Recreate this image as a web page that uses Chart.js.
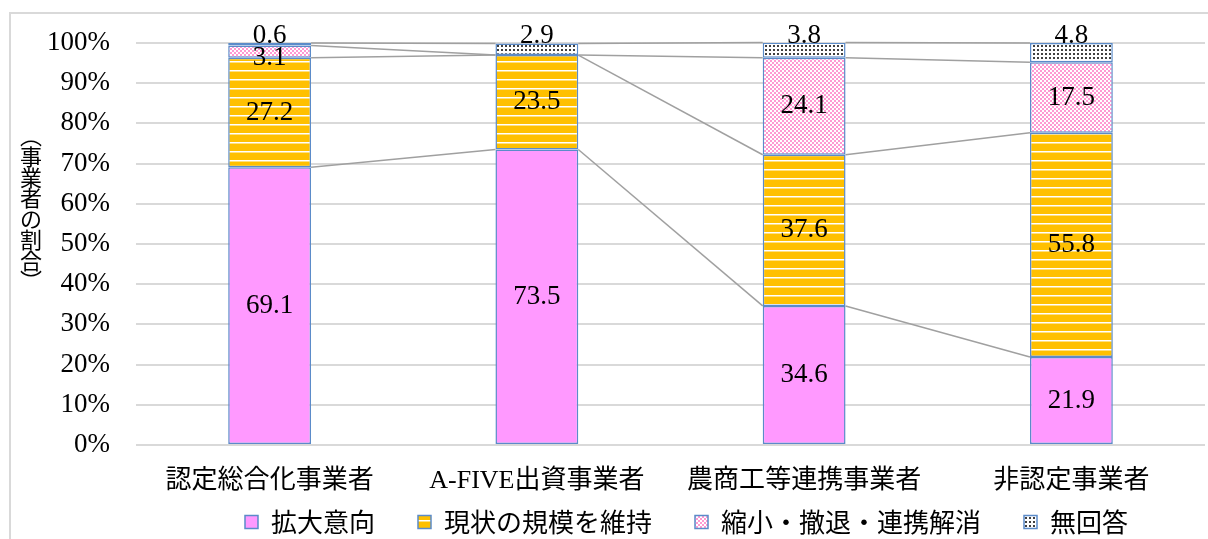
<!DOCTYPE html>
<html>
<head>
<meta charset="utf-8">
<script src="https://cdn.jsdelivr.net/npm/chart.js@4.4.1/dist/chart.umd.min.js"></script>
<style>
    html, body { margin: 0; padding: 0; background: #fff; overflow: hidden; }
    #wrap { position: relative; width: 1208px; height: 539px; }
</style>
</head>
<body>
<div id="wrap"><canvas id="chart"></canvas></div>
<script>
// データ（単位：%）
const categories = ['認定総合化事業者', 'A-FIVE出資事業者', '農商工等連携事業者', '非認定事業者'];
const seriesNames = ['拡大意向', '現状の規模を維持', '縮小・撤退・連携解消', '無回答'];
const expand = [69.1, 73.5, 34.6, 21.9];
const maintain = [27.2, 23.5, 37.6, 55.8];
const shrink = [3.1, 0, 24.1, 17.5];
const noAnswer = [0.6, 2.9, 3.8, 4.8];
const yTicks = [0, 10, 20, 30, 40, 50, 60, 70, 80, 90, 100];
const yTitle = ['︵', '事', '業', '者', 'の', '割', '合', '︶'];

const SERIF = '"Liberation Serif", "Noto Sans CJK JP", serif';
const GOTHIC = '"Noto Sans CJK JP", sans-serif';
const BORDER = '#5b8bc9';

function makeTile(w, h, draw) {
    const c = document.createElement('canvas');
    c.width = w;
    c.height = h;
    draw(c.getContext('2d'));
    return document.createElement('canvas').getContext('2d').createPattern(c, 'repeat');
}

// 横縞（オレンジ）
const stripePattern = makeTile(8, 9, g => {
    g.fillStyle = '#ffc000';
    g.fillRect(0, 0, 8, 9);
    g.fillStyle = '#ffffff';
    g.fillRect(0, 7, 8, 1);
    g.fillStyle = 'rgba(255,255,255,0.5)';
    g.fillRect(0, 8, 8, 1);
});

// 市松（ピンク）
const checkPattern = makeTile(4, 4, g => {
    g.fillStyle = '#ff99d2';
    g.fillRect(0, 0, 4, 4);
    g.fillStyle = '#ffffff';
    g.fillRect(0, 0, 2, 2);
    g.fillRect(2, 2, 2, 2);
});

// 点描
const dotPattern = makeTile(4, 4, g => {
    g.fillStyle = '#ffffff';
    g.fillRect(0, 0, 4, 4);
    g.fillStyle = '#404040';
    g.fillRect(1, 1, 2, 2);
});

const frame = {
    id: 'frame',
    beforeDraw(chart) {
        const c = chart.ctx;
        c.save();
        c.fillStyle = '#fff';
        c.fillRect(0, 0, chart.width, chart.height);
        c.strokeStyle = '#d9d9d9';
        c.lineWidth = 2;
        c.strokeRect(10, 13, chart.width + 50, chart.height + 50);
        c.restore();
    }
};

// 凡例を目盛ラベルの下、右寄りに置く
const legendPlace = {
    id: 'legendPlace',
    afterLayout(chart) {
        const lg = chart.legend;
        const lab = lg.options.labels;
        const dy = 522 - (lg.top + lab.padding + lab.font.size / 2);
        lg.top += dy;
        lg.bottom += dy;
        lg.left += 84;
        lg.right += 84;
    }
};

// 系列線
const seriesLines = {
    id: 'seriesLines',
    beforeDatasetsDraw(chart) {
        const c = chart.ctx;
        c.save();
        c.strokeStyle = '#a0a0a0';
        c.lineWidth = 1.5;
        chart.data.datasets.forEach((ds, di) => {
            const pts = chart.getDatasetMeta(di).data;
            for (let i = 0; i < pts.length - 1; i++) {
                const a = pts[i], b = pts[i + 1];
                c.beginPath();
                c.moveTo(a.x + a.width / 2, a.y);
                c.lineTo(b.x - b.width / 2, b.y);
                c.stroke();
            }
        });
        c.restore();
    }
};

const valueLabels = {
    id: 'valueLabels',
    afterDatasetsDraw(chart) {
        const c = chart.ctx;
        c.save();
        c.font = '27px ' + SERIF;
        c.fillStyle = '#000';
        c.textAlign = 'center';
        c.textBaseline = 'middle';
        chart.data.datasets.forEach((ds, di) => {
            chart.getDatasetMeta(di).data.forEach((el, i) => {
                const v = ds.data[i];
                if (!v) return;
                let y = (el.y + el.base) / 2;
                if (ds.labelAtTop) y = el.y - 7;
                else if (v < 5) y += 6;
                c.fillText(v.toFixed(1), el.x, y);
            });
        });
        c.restore();
    }
};

// 縦書きの軸タイトル
const axisTitle = {
    id: 'axisTitle',
    afterDraw(chart) {
        const c = chart.ctx;
        c.save();
        c.font = '22px ' + GOTHIC;
        c.fillStyle = '#000';
        c.textAlign = 'center';
        c.textBaseline = 'middle';
        yTitle.forEach((ch, i) => c.fillText(ch, 31, 136 + i * 20.7));
        c.restore();
    }
};

const ctx = document.getElementById('chart').getContext('2d');

new Chart(ctx, {
    type: 'bar',
    data: {
        labels: categories,
        datasets: [
            { label: seriesNames[0], data: expand, backgroundColor: '#ff99ff' },
            { label: seriesNames[1], data: maintain, backgroundColor: stripePattern },
            { label: seriesNames[2], data: shrink, backgroundColor: checkPattern },
            { label: seriesNames[3], data: noAnswer, backgroundColor: dotPattern, labelAtTop: true }
        ].map(ds => Object.assign({
            borderColor: BORDER,
            borderWidth: 1.5,
            borderSkipped: false,
            categoryPercentage: 1,
            barPercentage: 0.31
        }, ds))
    },
    options: {
        responsive: true,
        maintainAspectRatio: false,
        animation: false,
        layout: { padding: { left: 0, right: 3, top: 43, bottom: -40 } },
        scales: {
            x: {
                stacked: true,
                grid: { display: false, drawTicks: false },
                border: { display: false },
                ticks: { color: '#000', font: { family: SERIF, size: 26 }, padding: 21 },
                afterFit(s) { s.height = 55; }
            },
            y: {
                stacked: true,
                min: yTicks[0],
                max: yTicks[yTicks.length - 1],
                afterBuildTicks(s) { s.ticks = yTicks.map(v => ({ value: v })); },
                ticks: { color: '#000', font: { family: SERIF, size: 27 }, padding: 26, callback: v => v + '%' },
                grid: { color: '#d9d9d9', lineWidth: 2, drawTicks: false },
                border: { display: false },
                afterFit(s) { s.width = 136; }
            }
        },
        plugins: {
            legend: {
                position: 'bottom',
                labels: {
                    color: '#000',
                    font: { family: GOTHIC, size: 26 },
                    boxWidth: 13,
                    boxHeight: 13,
                    padding: 43
                }
            },
            tooltip: { enabled: false }
        }
    },
    plugins: [frame, legendPlace, seriesLines, valueLabels, axisTitle]
});
</script>
</body>
</html>
